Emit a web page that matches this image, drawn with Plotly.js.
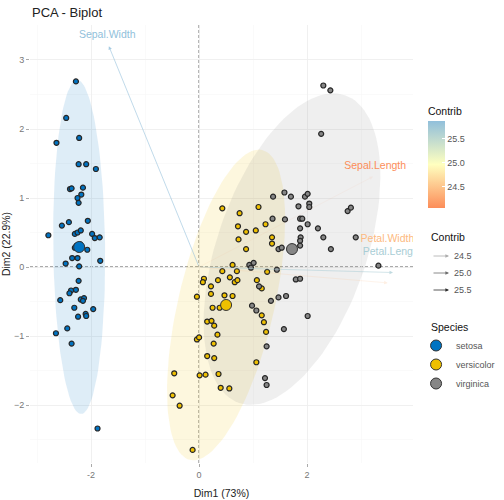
<!DOCTYPE html>
<html><head><meta charset="utf-8">
<script src="https://cdn.plot.ly/plotly-3.0.1.min.js"></script>
<style>html,body{margin:0;padding:0;background:#fff;}#chart{width:504px;height:500px;}</style>
</head><body><div id="chart"></div>
<script>
// ---------- data ----------
const species = ["setosa", "versicolor", "virginica"];
const speciesColors = ["#0073C2", "#EFC000", "#868686"];

const setosaDim1 = [-2.28,-2.46,-2.64,-2.22,-2.23,-2.09,-1.91,-2.39,-2.36,-2.15,-2.18,-2.25,-2.23,-2.06,-2.41,-2.54,-2.79,-2.30,-2.25,-2.19,-1.98,-1.93,-1.84,-2.07,-2.35,-2.25,-1.83,-2.47,-2.22,-2.23,-2.28,-2.37,-2.40,-2.19,-2.13,-2.15,-2.57,-2.31,-1.96,-2.10,-2.09,-2.24,-2.44,-2.65,-2.36,-1.88,-2.27,-2.21,-2.30,-2.20];
const setosaDim2 = [2.69,2.16,1.80,1.87,1.49,1.49,1.42,1.13,1.14,1.15,1.05,1.00,0.93,0.67,0.65,0.60,0.46,0.48,0.50,0.53,0.48,0.42,0.43,0.25,0.13,0.13,0.09,0.05,0.01,-0.20,-0.33,-0.34,-0.38,-0.47,-0.45,-0.49,-0.48,-0.59,-0.61,-0.68,-0.71,-0.72,-0.89,-0.96,-1.11,-2.34,0.31,0.27,0.28,0.33];

const versicolorDim1 = [0.43,0.75,1.10,0.72,0.87,1.05,0.73,0.87,0.62,0.43,0.70,0.57,0.09,0.07,0.35,0.66,0.71,0.22,-0.04,0.22,0.47,0.62,0.25,0.38,0.15,0.23,0.28,0.34,-0.04,0.00,0.27,0.15,0.28,-0.46,0.01,0.12,0.36,0.40,0.56,-0.49,-0.36,-0.12,1.06,1.23,1.35,1.35,1.26,1.07,1.16,1.16,1.20,1.24];
const versicolorDim2 = [0.85,0.78,0.87,0.59,0.51,0.53,0.40,0.26,0.03,-0.06,-0.06,-0.15,-0.17,-0.22,-0.19,-0.22,-0.19,-0.28,-0.43,-0.39,-0.41,-0.42,-0.59,-0.59,-0.79,-0.78,-0.85,-0.98,-1.05,-1.02,-1.11,-1.29,-1.32,-1.54,-1.57,-1.56,-1.55,-1.75,-1.76,-1.86,-2.01,-2.65,-1.38,0.62,0.43,0.34,-0.07,-0.19,-0.31,-0.70,-0.80,-0.94];

const virginicaDim1 = [2.30,2.43,2.26,1.37,1.58,1.70,1.96,2.01,1.84,2.04,2.04,2.75,2.81,1.36,1.59,1.87,1.91,2.01,2.20,1.87,1.88,1.87,2.30,2.90,1.47,1.53,1.87,2.44,3.32,1.44,1.79,1.87,1.33,1.47,1.61,2.01,1.57,1.25,1.22,1.25,0.93,0.96,1.01,0.98,1.06,1.11,1.68,1.75];
const virginicaDim2 = [2.63,2.56,1.93,1.02,1.08,1.02,1.02,1.06,0.88,0.92,0.87,0.81,0.86,0.70,0.69,0.70,0.70,0.62,0.56,0.56,0.43,0.38,0.43,0.43,0.26,0.28,0.31,0.26,0.02,-0.04,-0.18,-0.17,-0.49,-0.44,-0.42,-0.71,-0.90,-1.15,-1.61,-1.71,0.03,-0.01,0.06,-0.56,-0.63,-0.28,0.25,0.29];

const meanDim1 = [-2.22, 0.50, 1.72];
const meanDim2 = [0.29, -0.55, 0.26];

const varNames = ["Sepal.Length", "Sepal.Width", "Petal.Length", "Petal.Width"];
const varDim1 = [3.22, -1.67, 3.59, 3.49];
const varDim2 = [1.31, 3.20, -0.08, -0.23];
const varContrib = [24.05, 25.87, 25.67, 24.40];

const contribLegendValues = [24.5, 25.0, 25.5];
const contribLegendLabels = ["24.5", "25.0", "25.5"];

// ---------- styles / geometry ----------
const ellipseA = [[-0.04, 2.42], [0.667, 2.246], [0.98, 2.23]];   // semi-axis vectors
const ellipseB = [[0.48, 0.02], [0.866, -0.157], [1.31, -0.35]];
const labelDx = [0.04, -0.03, -0.56, -0.50];
const labelDy = [0.15, 0.16, 0.29, 0.63];
const labelPos = ["middle center", "middle center", "middle right", "middle right"];
const gradStops = [[252,141,89],[255,255,191],[145,191,219]];

const cmin = Math.min(...varContrib), cmax = Math.max(...varContrib);
function gradColor(v) {
  let t = (v - cmin) / (cmax - cmin); t = Math.max(0, Math.min(1, t));
  const s = t < 0.5 ? 0 : 1, f = t < 0.5 ? t / 0.5 : (t - 0.5) / 0.5;
  const a = gradStops[s], b = gradStops[s + 1];
  return a.map((c, i) => Math.round(c + (b[i] - c) * f));
}
function alphaOf(v) { return 0.1 + 0.9 * (v - cmin) / (cmax - cmin); }
function hexToRgba(h, a) {
  const n = parseInt(h.slice(1), 16);
  return 'rgba(' + ((n >> 16) & 255) + ',' + ((n >> 8) & 255) + ',' + (n & 255) + ',' + a + ')';
}

const dims1 = [setosaDim1, versicolorDim1, virginicaDim1];
const dims2 = [setosaDim2, versicolorDim2, virginicaDim2];

const traces = [];
// ellipses
species.forEach((sp, k) => {
  const ex = [], ey = [];
  for (let i = 0; i <= 120; i++) {
    const t = 2 * Math.PI * i / 120;
    ex.push(meanDim1[k] + Math.cos(t) * ellipseA[k][0] + Math.sin(t) * ellipseB[k][0]);
    ey.push(meanDim2[k] + Math.cos(t) * ellipseA[k][1] + Math.sin(t) * ellipseB[k][1]);
  }
  traces.push({x: ex, y: ey, type: 'scatter', mode: 'lines', fill: 'toself',
    fillcolor: hexToRgba(speciesColors[k], 0.13), line: {width: 0, color: 'rgba(0,0,0,0)'},
    hoverinfo: 'skip', showlegend: false});
});
// individuals
species.forEach((sp, k) => {
  traces.push({x: dims1[k], y: dims2[k], type: 'scatter', mode: 'markers', showlegend: false,
    marker: {size: 5, color: speciesColors[k], line: {color: '#262626', width: 1.2}}});
});
// group means (also legend)
species.forEach((sp, k) => {
  traces.push({x: [meanDim1[k]], y: [meanDim2[k]], type: 'scatter', mode: 'markers', name: sp,
    marker: {size: 11, color: speciesColors[k], line: {color: '#333', width: 1}}});
});
// colorbar carrier (invisible markers at arrow tips)
traces.push({x: varDim1, y: varDim2, type: 'scatter', mode: 'markers', showlegend: false, hoverinfo: 'skip',
  marker: {size: 1, opacity: 0, color: varContrib, cmin: cmin, cmax: cmax,
    colorscale: [[0, 'rgb(252,141,89)'], [0.5, 'rgb(255,255,191)'], [1, 'rgb(145,191,219)']],
    showscale: true,
    colorbar: {thickness: 17, len: 104, lenmode: 'pixels', x: 1.039, xanchor: 'left', xpad: 0, ypad: 0,
      y: (463 - 156) / 438, yanchor: 'middle', outlinewidth: 0, tickvals: contribLegendValues, ticktext: contribLegendLabels,
      ticks: 'inside', ticklen: 3, tickcolor: '#fff', tickfont: {size: 9, color: '#555'},
      title: {text: 'Contrib', side: 'top', font: {size: 10.5, color: '#111'}}}}});
// variable labels (clipped to panel)
traces.push({x: varDim1.map((v, i) => v + labelDx[i]), y: varDim2.map((v, i) => v + labelDy[i]),
  type: 'scatter', mode: 'text', text: varNames, textposition: labelPos, showlegend: false, hoverinfo: 'skip',
  textfont: {size: 10.5, color: varContrib.map(c => 'rgb(' + gradColor(c).join(',') + ')')}});

const annotations = [];
varNames.forEach((n, i) => {
  const c = gradColor(varContrib[i]);
  annotations.push({x: varDim1[i], y: varDim2[i], ax: 0, ay: 0, xref: 'x', yref: 'y', axref: 'x', ayref: 'y',
    text: '', showarrow: true, arrowhead: 2, arrowsize: 1, arrowwidth: 0.7,
    arrowcolor: 'rgba(' + c.join(',') + ',' + (alphaOf(varContrib[i]) * 0.8).toFixed(2) + ')'});
});
// legend titles and contrib (alpha) legend
const px2x = p => (p - 30) / 383, py2y = p => (463 - p) / 438;
annotations.push({xref: 'paper', yref: 'paper', x: px2x(429), y: py2y(237), xanchor: 'left', yanchor: 'middle',
  text: 'Contrib', showarrow: false, font: {size: 10.5, color: '#111'}});
annotations.push({xref: 'paper', yref: 'paper', x: px2x(429), y: py2y(327), xanchor: 'left', yanchor: 'middle',
  text: 'Species', showarrow: false, font: {size: 10.5, color: '#111'}});
contribLegendValues.forEach((v, i) => {
  const py = 256 + i * 17;
  annotations.push({xref: 'paper', yref: 'paper', x: px2x(449), y: py2y(py), ax: -17, ay: 0, text: '',
    showarrow: true, arrowhead: 2, arrowsize: 0.9, arrowwidth: 0.8,
    arrowcolor: 'rgba(0,0,0,' + alphaOf(v).toFixed(2) + ')'});
  annotations.push({xref: 'paper', yref: 'paper', x: px2x(452), y: py2y(py), xanchor: 'left', yanchor: 'middle',
    text: contribLegendLabels[i], showarrow: false, font: {size: 9, color: '#555'}});
});

const layout = {
  width: 504, height: 500,
  margin: {l: 30, r: 91, t: 25, b: 37, autoexpand: false},
  paper_bgcolor: '#fff', plot_bgcolor: '#fff',
  font: {family: '"Liberation Sans", Arial, sans-serif', color: '#333'},
  title: {text: 'PCA - Biplot', x: 32 / 504, xanchor: 'left', xref: 'container', y: 1 - 12 / 500, yanchor: 'middle',
    font: {size: 13, color: '#222'}},
  xaxis: {range: [-3.13, 3.96], tickvals: [-2, 0, 2], ticktext: ['-2', '0', '2'], zeroline: false,
    showgrid: true, gridcolor: '#ededed', gridwidth: 0.8,
    minor: {dtick: 1, tick0: 0, showgrid: true, gridcolor: '#f6f6f6', gridwidth: 0.6},
    ticks: 'outside', ticklen: 3, tickcolor: '#aaa', tickfont: {size: 9, color: '#777'},
    showline: false, automargin: false,
    title: {text: 'Dim1 (73%)', font: {size: 10.5, color: '#222'}, standoff: 10}},
  yaxis: {range: [-2.84, 3.507], tickvals: [-2, -1, 0, 1, 2, 3], zeroline: false,
    showgrid: true, gridcolor: '#ededed', gridwidth: 0.8,
    minor: {dtick: 0.5, tick0: 0, showgrid: true, gridcolor: '#f6f6f6', gridwidth: 0.6},
    ticks: 'outside', ticklen: 3, tickcolor: '#aaa', tickfont: {size: 9, color: '#777'},
    showline: false, automargin: false,
    title: {text: 'Dim2 (22.9%)', font: {size: 10.5, color: '#222'}, standoff: 4}},
  shapes: [
    {type: 'line', xref: 'x', yref: 'paper', x0: 0, x1: 0, y0: 0, y1: 1, layer: 'below',
      line: {color: '#555', width: 1, dash: '3px,2px'}},
    {type: 'line', xref: 'paper', yref: 'y', x0: 0, x1: 1, y0: 0, y1: 0, layer: 'below',
      line: {color: '#555', width: 1, dash: '3px,2px'}}
  ],
  legend: {x: 1.008, xanchor: 'left', y: py2y(331), yanchor: 'top', font: {size: 9, color: '#555'},
    bgcolor: 'rgba(0,0,0,0)', tracegroupgap: 0},
  annotations: annotations,
  showlegend: true
};

Plotly.newPlot('chart', traces, layout, {displayModeBar: false, staticPlot: true});
</script></body></html>
